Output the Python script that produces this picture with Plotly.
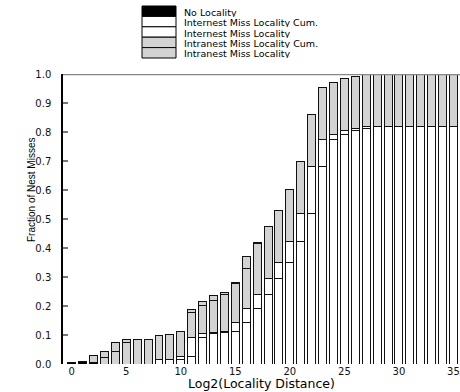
import plotly.graph_objects as go

# Log2 of locality distance (one bar per bucket)
distance = list(range(36))

# Stacked fractions of nest misses, bottom to top
no_locality = [0.004, 0.007, 0.005] + [0.0] * 33
internest_cum = [0.0] * 9 + [0.014, 0.017, 0.025, 0.092, 0.105, 0.108, 0.111, 0.144, 0.193,
                             0.240, 0.295, 0.351, 0.422, 0.518, 0.682, 0.774, 0.792, 0.806,
                             0.812, 0.818] + [0.820] * 7
internest = [0.0] * 8 + [0.014, 0.003, 0.008, 0.067, 0.013, 0.003, 0.003, 0.033, 0.049, 0.047,
                         0.055, 0.056, 0.071, 0.096, 0.164, 0.092, 0.018, 0.014, 0.006, 0.006,
                         0.002] + [0.0] * 7
intranest_cum = [0.0, 0.0, 0.0, 0.023, 0.044, 0.074, 0.085, 0.086, 0.086, 0.086, 0.086, 0.086,
                 0.097, 0.112, 0.128, 0.135, 0.136, 0.177, 0.178, 0.178, 0.179, 0.179,
                 0.179] + [0.180] * 13
intranest = [0.0, 0.0, 0.023, 0.021, 0.030, 0.011, 0.001, 0.0, 0.0, 0.0, 0.0, 0.011, 0.015,
             0.016, 0.007, 0.001, 0.041, 0.001, 0.0, 0.001, 0.0, 0.0, 0.001] + [0.0] * 13

y_ticks = [0.0, 0.1, 0.2, 0.3, 0.4, 0.5, 0.6, 0.7, 0.8, 0.9, 1.0]
x_ticks = [0, 5, 10, 15, 20, 25, 30, 35]

GRAY = "#d3d3d3"
series = [
    ("No Locality", no_locality, "#000000"),
    ("Internest Miss Locality Cum.", internest_cum, "#ffffff"),
    ("Internest Miss Locality", internest, "#ffffff"),
    ("Intranest Miss Locality Cum.", intranest_cum, GRAY),
    ("Intranest Miss Locality", intranest, GRAY),
]

fig = go.Figure()
for name, vals, color in series:
    fig.add_trace(go.Bar(
        x=distance, y=vals, name=name, showlegend=False,
        marker=dict(color=color, line=dict(color="#111111", width=1)),
    ))

# plot area geometry in pixels (for the hand-built legend and titles)
W, H = 460, 392
L, R, T, B = 63, 0, 74, 28
PW, PH = W - L - R, H - T - B


def px(x):
    return (x - L) / PW


def py(y):
    return (H - B - y) / PH


shapes = [
    # frame line across the top at 1.0
    dict(type="line", xref="paper", yref="y", x0=0, x1=1, y0=1.0, y1=1.0,
         line=dict(color="#888888", width=2.5)),
]
annotations = []

# legend: wide swatches stacked with text to the right
row_top, row_h = 6, 10.4
sw_x0, sw_x1, txt_x = 142, 176, 183
for i, (name, vals, color) in enumerate(series):
    y0 = row_top + i * row_h
    shapes.append(dict(type="rect", xref="paper", yref="paper",
                       x0=px(sw_x0), x1=px(sw_x1), y0=py(y0 + row_h), y1=py(y0),
                       fillcolor=color, line=dict(color="#000000", width=1)))
    annotations.append(dict(xref="paper", yref="paper", x=px(txt_x), y=py(y0 + row_h / 2 + 0.5),
                            text=name, showarrow=False, xanchor="left", yanchor="middle",
                            height=10, borderpad=0,
                            font=dict(family="DejaVu Sans", size=9.5, color="#000000")))

annotations.append(dict(xref="paper", yref="paper", x=px(261), y=py(383),
                        text="Log2(Locality Distance)", showarrow=False,
                        xanchor="center", yanchor="middle",
                        font=dict(family="DejaVu Sans", size=12.5, color="#000000")))
annotations.append(dict(xref="paper", yref="paper", x=px(31), y=py(190),
                        text="Fraction of Nest Misses", showarrow=False, textangle=-90,
                        xanchor="center", yanchor="middle",
                        font=dict(family="Liberation Sans Narrow, Liberation Sans", size=10,
                                  color="#000000")))

fig.update_layout(
    barmode="stack",
    bargap=0.27,
    width=W, height=H,
    margin=dict(l=L, r=R, t=T, b=B, pad=0),
    paper_bgcolor="white", plot_bgcolor="white",
    shapes=shapes, annotations=annotations,
    xaxis=dict(range=[-0.8, 35.6], tickvals=x_ticks, ticktext=[str(v) for v in x_ticks],
               showgrid=False, zeroline=False, showline=False, ticks="",
               tickfont=dict(family="DejaVu Sans", size=10, color="#111111")),
    yaxis=dict(range=[0, 1.0], tickvals=y_ticks, ticktext=[f"{v:.1f}" for v in y_ticks],
               showgrid=False, zeroline=False, showline=True, linecolor="#000000",
               linewidth=1.5, ticks="inside", ticklen=5, tickcolor="#777777", tickwidth=1.5,
               ticklabelstandoff=8,
               tickfont=dict(family="DejaVu Sans", size=10, color="#111111")),
)

fig.write_html("out.html")
